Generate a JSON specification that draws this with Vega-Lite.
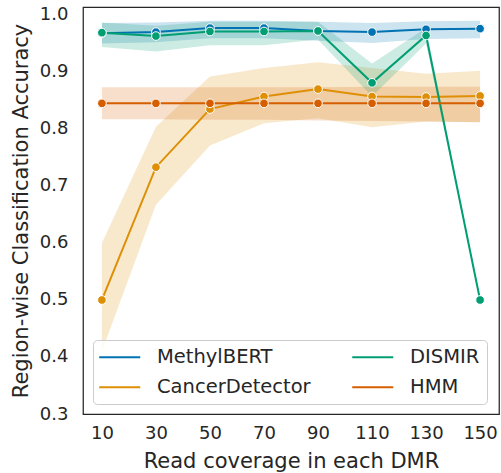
{
  "$schema": "https://vega.github.io/schema/vega-lite/v6.json",
  "width": 416,
  "height": 407,
  "autosize": {"type": "none"},
  "padding": {"left": 83, "top": 7, "right": 2, "bottom": 59},
  "config": {
    "font": "DejaVu Sans",
    "view": {"stroke": "#262626", "strokeWidth": 1.25},
    "axis": {
      "grid": false, "domain": false, "ticks": false,
      "labelColor": "#262626", "titleColor": "#262626",
      "labelFontSize": 18, "titleFontSize": 21, "titleFontWeight": "normal",
      "labelFlush": false
    }
  },
  "data": {
    "values": [
      {"method": "MethylBERT", "coverage": 10, "acc": 0.968, "lo": 0.950, "hi": 0.986},
      {"method": "MethylBERT", "coverage": 30, "acc": 0.970, "lo": 0.952, "hi": 0.987},
      {"method": "MethylBERT", "coverage": 50, "acc": 0.977, "lo": 0.959, "hi": 0.990},
      {"method": "MethylBERT", "coverage": 70, "acc": 0.977, "lo": 0.959, "hi": 0.990},
      {"method": "MethylBERT", "coverage": 90, "acc": 0.972, "lo": 0.955, "hi": 0.988},
      {"method": "MethylBERT", "coverage": 110, "acc": 0.970, "lo": 0.951, "hi": 0.986},
      {"method": "MethylBERT", "coverage": 130, "acc": 0.975, "lo": 0.958, "hi": 0.989},
      {"method": "MethylBERT", "coverage": 150, "acc": 0.976, "lo": 0.959, "hi": 0.990},
      {"method": "CancerDetector", "coverage": 10, "acc": 0.500, "lo": 0.410, "hi": 0.600},
      {"method": "CancerDetector", "coverage": 30, "acc": 0.733, "lo": 0.667, "hi": 0.804},
      {"method": "CancerDetector", "coverage": 50, "acc": 0.835, "lo": 0.771, "hi": 0.892},
      {"method": "CancerDetector", "coverage": 70, "acc": 0.857, "lo": 0.810, "hi": 0.907},
      {"method": "CancerDetector", "coverage": 90, "acc": 0.870, "lo": 0.819, "hi": 0.917},
      {"method": "CancerDetector", "coverage": 110, "acc": 0.857, "lo": 0.803, "hi": 0.907},
      {"method": "CancerDetector", "coverage": 130, "acc": 0.856, "lo": 0.813, "hi": 0.897},
      {"method": "CancerDetector", "coverage": 150, "acc": 0.858, "lo": 0.812, "hi": 0.902},
      {"method": "DISMIR", "coverage": 10, "acc": 0.969, "lo": 0.944, "hi": 0.987},
      {"method": "DISMIR", "coverage": 30, "acc": 0.963, "lo": 0.936, "hi": 0.981},
      {"method": "DISMIR", "coverage": 50, "acc": 0.971, "lo": 0.947, "hi": 0.988},
      {"method": "DISMIR", "coverage": 70, "acc": 0.971, "lo": 0.947, "hi": 0.988},
      {"method": "DISMIR", "coverage": 90, "acc": 0.972, "lo": 0.957, "hi": 0.988},
      {"method": "DISMIR", "coverage": 110, "acc": 0.881, "lo": 0.857, "hi": 0.915},
      {"method": "DISMIR", "coverage": 130, "acc": 0.964, "lo": 0.950, "hi": 0.977},
      {"method": "DISMIR", "coverage": 150, "acc": 0.500, "lo": 0.500, "hi": 0.500},
      {"method": "HMM", "coverage": 10, "acc": 0.845, "lo": 0.817, "hi": 0.873},
      {"method": "HMM", "coverage": 30, "acc": 0.845, "lo": 0.817, "hi": 0.873},
      {"method": "HMM", "coverage": 50, "acc": 0.845, "lo": 0.816, "hi": 0.873},
      {"method": "HMM", "coverage": 70, "acc": 0.845, "lo": 0.816, "hi": 0.873},
      {"method": "HMM", "coverage": 90, "acc": 0.845, "lo": 0.815, "hi": 0.873},
      {"method": "HMM", "coverage": 110, "acc": 0.845, "lo": 0.814, "hi": 0.874},
      {"method": "HMM", "coverage": 130, "acc": 0.845, "lo": 0.813, "hi": 0.874},
      {"method": "HMM", "coverage": 150, "acc": 0.845, "lo": 0.812, "hi": 0.874}
    ]
  },
  "encoding": {
    "x": {
      "field": "coverage", "type": "quantitative",
      "scale": {"domain": [3, 157], "nice": false, "zero": false},
      "axis": {"title": "Read coverage in each DMR", "values": [10, 30, 50, 70, 90, 110, 130, 150], "labelPadding": 10, "titlePadding": 8}
    },
    "color": {
      "field": "method", "type": "nominal",
      "scale": {"domain": ["MethylBERT", "CancerDetector", "DISMIR", "HMM"], "range": ["#0173b2", "#de8f05", "#029e73", "#d55e00"]},
      "legend": {
        "title": null, "orient": "bottom-left", "offset": 10, "columns": 2,
        "columnPadding": 37, "rowPadding": 9.5,
        "symbolType": "M-3,0H3", "symbolSize": 187, "symbolStrokeWidth": 2, "symbolOpacity": 1, "symbolOffset": 10,
        "labelFontSize": 19.5, "labelOffset": 27.5, "labelColor": "#262626",
        "padding": 7, "fillColor": "rgba(255,255,255,0.8)", "strokeColor": "#cccccc", "cornerRadius": 4
      }
    }
  },
  "layer": [
    {
      "mark": {"type": "area", "opacity": 0.2},
      "encoding": {
        "y": {"field": "lo", "type": "quantitative"},
        "y2": {"field": "hi"}
      }
    },
    {
      "mark": {"type": "line", "strokeWidth": 2},
      "encoding": {
        "y": {
          "field": "acc", "type": "quantitative",
          "scale": {"domain": [0.3, 1.014], "nice": false, "zero": false},
          "axis": {"title": "Region-wise Classification Accuracy", "values": [0.3, 0.4, 0.5, 0.6, 0.7, 0.8, 0.9, 1.0], "format": ".1f", "labelPadding": 15, "titlePadding": 8}
        }
      }
    },
    {
      "mark": {"type": "point", "filled": true, "size": 75, "stroke": "white", "strokeWidth": 1, "opacity": 1},
      "encoding": {
        "y": {"field": "acc", "type": "quantitative"}
      }
    }
  ]
}
